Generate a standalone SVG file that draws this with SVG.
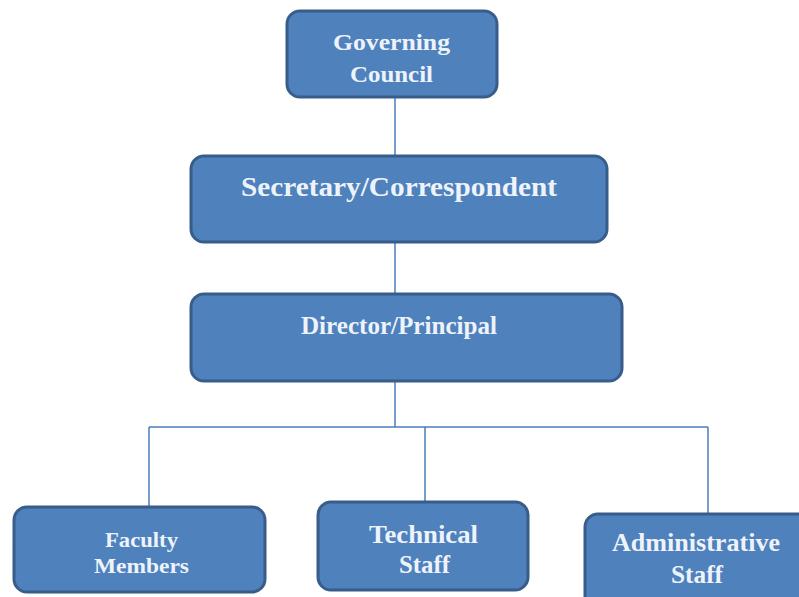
<svg xmlns="http://www.w3.org/2000/svg" width="799" height="597" viewBox="0 0 799 597">
<style>
.box{fill:#4f81bd;stroke:#385d8a;stroke-width:3}
.lbl{font-family:"Liberation Serif","DejaVu Serif",serif;font-weight:bold;fill:#eef3fa;text-anchor:middle}
.con{stroke:#4a7ebb;stroke-width:1.5;fill:none}
</style>
<rect width="799" height="597" fill="#ffffff"/>
<g id="connectors">
<path class="con" d="M395 97V156M395 242V294M395 381V427M149 427H708M149 427V507M425 427V502M708 427V514"/>
</g>
<g id="governing"><rect class="box" x="287" y="11" width="210" height="86" rx="13"/>
<text class="lbl" x="391.5" y="50" font-size="24" textLength="117" lengthAdjust="spacingAndGlyphs">Governing</text><text class="lbl" x="391.5" y="82" font-size="24" textLength="83" lengthAdjust="spacingAndGlyphs">Council</text></g>
<g id="secretary"><rect class="box" x="191" y="156" width="416" height="86" rx="13"/>
<text class="lbl" x="399" y="196" font-size="27" textLength="316" lengthAdjust="spacingAndGlyphs">Secretary/Correspondent</text></g>
<g id="director"><rect class="box" x="191" y="294" width="431" height="87" rx="13"/>
<text class="lbl" x="399" y="334" font-size="25" textLength="196" lengthAdjust="spacingAndGlyphs">Director/Principal</text></g>
<g id="faculty"><rect class="box" x="14" y="507" width="251" height="85" rx="13"/>
<text class="lbl" x="141.5" y="547" font-size="21" textLength="73" lengthAdjust="spacingAndGlyphs">Faculty</text><text class="lbl" x="141.5" y="573" font-size="21" textLength="95" lengthAdjust="spacingAndGlyphs">Members</text></g>
<g id="technical"><rect class="box" x="318" y="502" width="210" height="88" rx="13"/>
<text class="lbl" x="423.5" y="543" font-size="25" textLength="109" lengthAdjust="spacingAndGlyphs">Technical</text><text class="lbl" x="424.5" y="573" font-size="25" textLength="51" lengthAdjust="spacingAndGlyphs">Staff</text></g>
<g id="administrative"><rect class="box" x="585" y="514" width="230" height="100" rx="13"/>
<text class="lbl" x="696" y="551" font-size="25" textLength="168" lengthAdjust="spacingAndGlyphs">Administrative</text><text class="lbl" x="697" y="583" font-size="25" textLength="52" lengthAdjust="spacingAndGlyphs">Staff</text></g>
</svg>
